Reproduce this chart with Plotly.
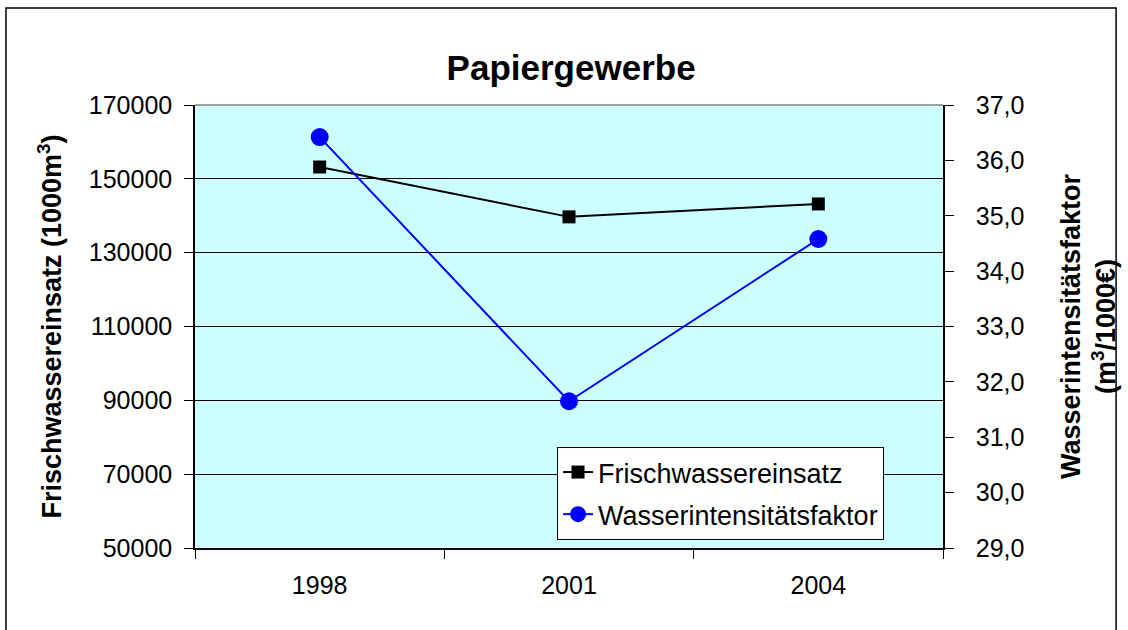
import plotly.graph_objects as go

# Papiergewerbe: fresh water use and water intensity factor
years = ["1998", "2001", "2004"]
frischwasser = [153200, 139700, 143200]          # 1000 m³
intensitaet = [36.42, 31.65, 34.58]              # m³/1000€

FONT = "Liberation Sans, Arial, sans-serif"

fig = go.Figure()

fig.add_trace(go.Scatter(
    x=years, y=frischwasser, name="Frischwassereinsatz", mode="lines+markers",
    line=dict(color="black", width=2),
    marker=dict(symbol="square", size=13, color="black"),
    legendgroup="a",
))
fig.add_trace(go.Scatter(
    x=years, y=intensitaet, name="Wasserintensitätsfaktor", mode="lines+markers",
    line=dict(color="#0000FF", width=2),
    marker=dict(symbol="circle", size=18, color="#0000FF"),
    yaxis="y2", legendgroup="b",
))

# outer chart border (bottom edge runs off the picture)
fig.add_shape(type="rect", xref="paper", yref="paper",
              x0=-0.2527, x1=1.2314, y0=-0.21, y1=1.219,
              line=dict(color="black", width=1.5), fillcolor="rgba(0,0,0,0)", layer="below")

fig.update_layout(
    width=1128, height=630,
    margin=dict(l=195, r=181, t=105, b=82),
    paper_bgcolor="white", plot_bgcolor="#CCFFFF",
    separators=",.",
    font=dict(family=FONT, size=25, color="black"),
    title=dict(text="<b>Papiergewerbe</b>", x=0.5063, xanchor="center", y=0.892, yanchor="middle",
               font=dict(family=FONT, size=35, color="black")),
    xaxis=dict(type="category", range=[-0.5, 2.5], tickson="boundaries",
               ticks="outside", ticklen=9, tickcolor="black", ticklabelstandoff=14,
               showline=True, linecolor="black", linewidth=1.5, mirror=False,
               showgrid=False, tickfont=dict(size=25)),
    yaxis=dict(range=[50000, 170000], tick0=50000, dtick=20000, tickformat="d",
               exponentformat="none",
               ticks="outside", ticklen=9, tickcolor="black", ticklabelstandoff=7,
               showline=True, linecolor="black", linewidth=1.5,
               showgrid=True, gridcolor="black", gridwidth=1, zeroline=False,
               tickfont=dict(size=25),
               title=dict(text="<b>Frischwassereinsatz (1000m<sup>3</sup>)</b>", standoff=19,
                          font=dict(size=27))),
    yaxis2=dict(range=[29, 37], tick0=29, dtick=1, tickformat=".1f", overlaying="y", side="right",
                ticks="outside", ticklen=9, tickcolor="black", ticklabelstandoff=17,
                showline=True, linecolor="black", linewidth=1.5,
                showgrid=False, zeroline=False,
                tickfont=dict(size=25),
                title=dict(text="<b>Wasserintensitätsfaktor<br>(m<sup>3</sup>/1000€)</b>", standoff=38,
                           font=dict(size=27))),
    legend=dict(x=0.484, y=0.228, xanchor="left", yanchor="top",
                bgcolor="white", bordercolor="black", borderwidth=1,
                font=dict(size=27), traceorder="grouped", tracegroupgap=4),
    showlegend=True,
)

# grey plot-area top edge
fig.add_shape(type="line", xref="paper", yref="paper", x0=0, x1=1, y0=1, y1=1,
              line=dict(color="#808080", width=1.5))

fig.write_html("out.html", config={"displayModeBar": False},
               post_script="document.body.style.margin='0';")
